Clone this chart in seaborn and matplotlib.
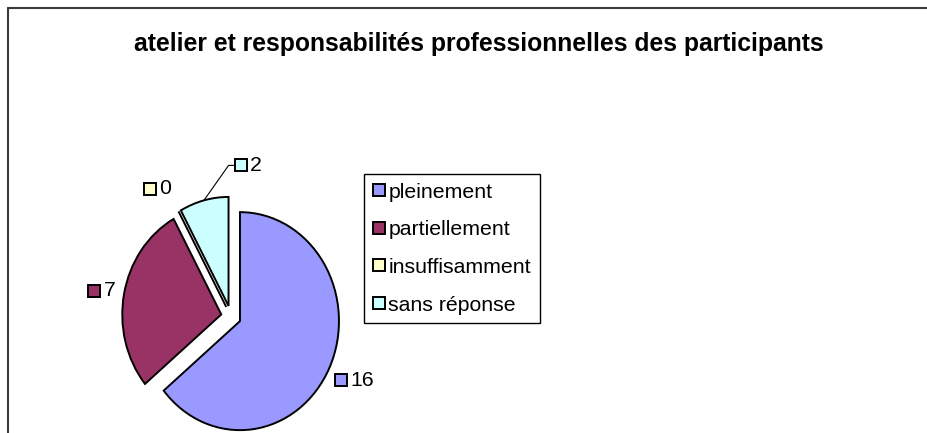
import matplotlib
matplotlib.use("Agg")
import matplotlib.pyplot as plt
import seaborn as sns
import numpy as np
from matplotlib.lines import Line2D

# Données
categories = ["pleinement", "partiellement", "insuffisamment", "sans réponse"]
effectifs = [16, 7, 0, 2]
couleurs = ["#9999FF", "#993366", "#FFFFCC", "#CCFFFF"]
titre = "atelier et responsabilités professionnelles des participants"

sns.set_theme(style="white")
plt.rcParams["font.family"] = ["Liberation Sans", "DejaVu Sans"]
plt.rcParams["text.color"] = "black"

W, H = 928, 433
fig = plt.figure(figsize=(W / 100, H / 100), dpi=100)
ax = fig.add_axes([0, 0, 1, 1])

# Camembert éclaté, sens horaire depuis midi (style Excel)
wedges, _ = ax.pie(effectifs, colors=couleurs, explode=[0.1] * len(effectifs),
                   startangle=90, counterclock=False, radius=1,
                   wedgeprops=dict(edgecolor="black", linewidth=1.4))

# centre du camembert (pixels) et rayons horizontal / vertical
cx, cy, rx, ry = 231, 316.5, 99, 109
ax.set_aspect("auto")
ax.set_xlim(-cx / rx, (W - cx) / rx)
ax.set_ylim(-(H - cy) / ry, cy / ry)
ax.axis("off")

# Étiquettes de valeurs (carré coloré + nombre)
dist_etiq = [1.26, 1.40, 1.43, 1.39]
decal_angle = [-2.5, 1.0, 6.0, -18.6]
avec_trait = [False, False, False, True]
for w, n, c, d, t, trait in zip(wedges, effectifs, couleurs, dist_etiq, decal_angle, avec_trait):
    mid = (w.theta1 + w.theta2) / 2
    a = np.deg2rad(mid + t)
    lx, ly = d * np.cos(a), d * np.sin(a)
    ax.plot(lx, ly, ls="none", marker="s", ms=8, mfc=c, mec="black", mew=1.4)
    ax.annotate(str(n), (lx, ly), xytext=(6.5, 0), textcoords="offset points",
                ha="left", va="center", fontsize=15.3, color="black")
    if trait:
        am = np.deg2rad(mid)
        px = w.center[0] + np.cos(am)
        py = w.center[1] + np.sin(am)
        x_sq = lx - 5.5 / rx
        ax.plot([px, x_sq - 7 / rx, x_sq], [py, ly, ly], color="black", lw=0.8)

# Légende
poignees = [Line2D([], [], ls="none", marker="s", ms=8, mfc=c, mec="black", mew=1.4)
            for c in couleurs]
leg = ax.legend(poignees, categories, loc="upper left",
                bbox_to_anchor=(364 / W, 1 - 174 / H), bbox_transform=fig.transFigure,
                frameon=True, fancybox=False, edgecolor="black", framealpha=1,
                fontsize=15.3, handlelength=0.6, handletextpad=0.15,
                borderpad=0.4, labelspacing=0.88, borderaxespad=0,
                labelcolor="black")
leg.get_frame().set_linewidth(1.0)

# Titre
fig.text(479 / W, 1 - 51 / H, titre, ha="center", va="baseline",
         fontsize=17.8, fontweight="bold", color="black")

# Cadre de la zone de graphique (haut et gauche)
fig.add_artist(Line2D([8 / W, 8 / W], [0, 1 - 8 / H], color="#3a3a3a", lw=1.5,
                      transform=fig.transFigure))
fig.add_artist(Line2D([8 / W, 1], [1 - 8 / H, 1 - 8 / H], color="#3a3a3a", lw=1.5,
                      transform=fig.transFigure))

fig.savefig("out.png", dpi=100)
